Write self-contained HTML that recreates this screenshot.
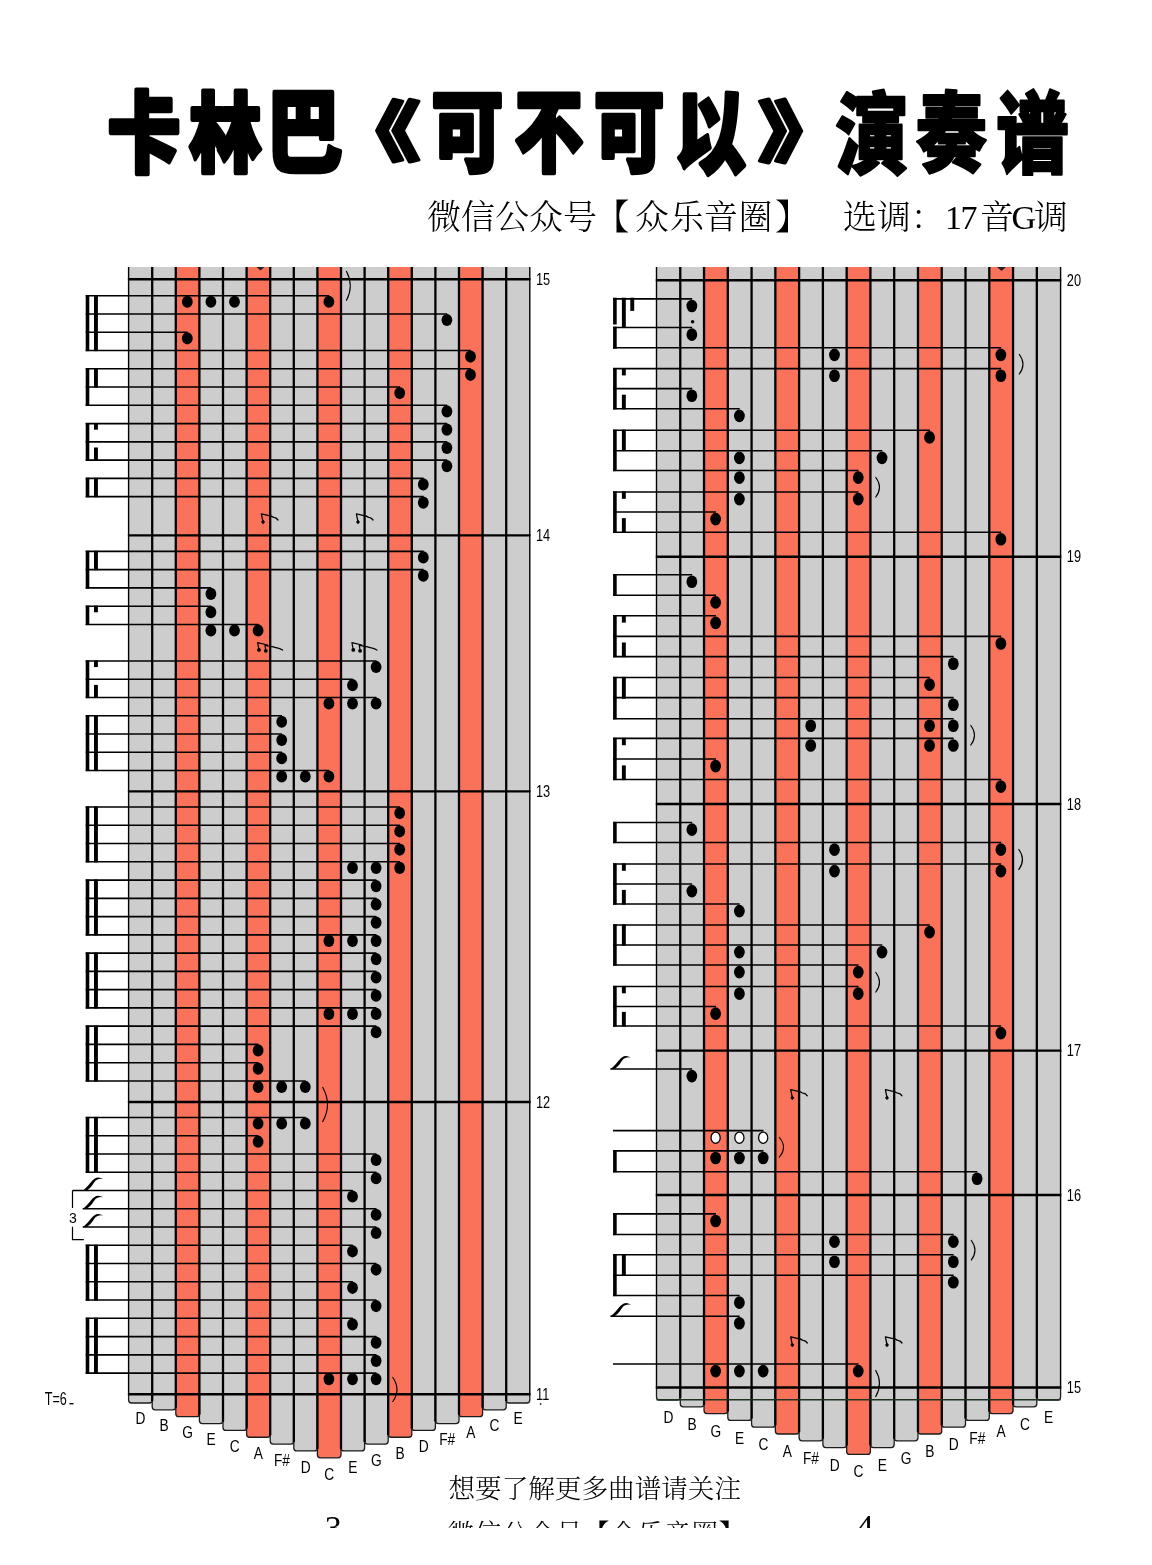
<!DOCTYPE html>
<html><head><meta charset="utf-8"><title>卡林巴《可不可以》演奏谱</title>
<style>
html,body{margin:0;padding:0;background:#fff;}
body{width:1152px;height:1565px;position:relative;overflow:hidden;}
svg{position:absolute;left:0;top:0;display:block;}
text{filter:grayscale(1);}
.tt{font-family:"Noto Sans CJK SC",sans-serif;font-weight:900;font-size:92px;fill:#000;stroke:#000;stroke-width:7px;stroke-linejoin:round;}
.st{font-family:"Liberation Serif","Noto Serif CJK SC",serif;font-size:34px;font-weight:300;fill:#000;}
.ml{font-family:"Liberation Sans",sans-serif;font-size:16px;fill:#000;}
.tl{font-family:"Liberation Sans",sans-serif;font-size:16px;fill:#000;}
.tn{font-family:"Liberation Sans",sans-serif;font-size:14px;fill:#000;}
.tx{font-family:"Liberation Sans",sans-serif;font-size:17.5px;fill:#000;}
.ft{font-family:"Liberation Serif","Noto Serif CJK SC",serif;font-weight:300;fill:#000;}
</style></head><body>
<svg width="1152" height="1565" viewBox="0 0 1152 1565">
<rect width="1152" height="1565" fill="#fff"/>
<text transform="translate(144.11,164.97) scale(0.7935,0.9521)" x="0" y="0" class="tt" style="stroke-width:4.5px" text-anchor="middle">卡</text>
<text transform="translate(225.36,165.12) scale(0.7889,0.9385)" x="0" y="0" class="tt" style="stroke-width:4.5px" text-anchor="middle">林</text>
<text transform="translate(304.2,164.02) scale(0.8313,0.9759)" x="0" y="0" class="tt" style="stroke-width:4.5px" text-anchor="middle">巴</text>
<text transform="translate(376.05,156.36) scale(0.9715,0.7184)" x="0" y="0" class="tt" style="stroke-width:4.0px" text-anchor="middle">《</text>
<text transform="translate(467.23,163.58) scale(0.7793,0.9654)" x="0" y="0" class="tt" style="stroke-width:4.5px" text-anchor="middle">可</text>
<text transform="translate(548.75,163.58) scale(0.7419,0.9654)" x="0" y="0" class="tt" style="stroke-width:4.5px" text-anchor="middle">不</text>
<text transform="translate(629.1,163.58) scale(0.7651,0.9654)" x="0" y="0" class="tt" style="stroke-width:4.5px" text-anchor="middle">可</text>
<text transform="translate(710.19,165.54) scale(0.7651,0.9840)" x="0" y="0" class="tt" style="stroke-width:4.5px" text-anchor="middle">以</text>
<text transform="translate(802.34,156.22) scale(0.9715,0.7322)" x="0" y="0" class="tt" style="stroke-width:4.0px" text-anchor="middle">》</text>
<text transform="translate(872.1,166.74) scale(0.7949,0.9594)" x="0" y="0" class="tt" style="stroke-width:2.5px" text-anchor="middle">演</text>
<text transform="translate(951.36,164.74) scale(0.7786,0.9455)" x="0" y="0" class="tt" style="stroke-width:2.5px" text-anchor="middle">奏</text>
<text transform="translate(1032.5,165.86) scale(0.7867,0.9594)" x="0" y="0" class="tt" style="stroke-width:2.5px" text-anchor="middle">谱</text>
<text y="229" class="st"><tspan x="427">微信公众号</tspan><tspan x="595" style="font-weight:900">【</tspan><tspan x="634.9">众</tspan><tspan x="670">乐</tspan><tspan x="704">音</tspan><tspan x="738.6">圈</tspan><tspan x="775.5" style="font-weight:900">】</tspan></text>
<text y="229" class="st"><tspan x="843">选调：1</tspan><tspan x="960.5">7</tspan><tspan x="980">音</tspan><tspan x="1011.5">G</tspan><tspan x="1034">调</tspan></text>
<path d="M317.4,267 L317.4,1454.8 Q317.4,1457.8 320.4,1457.8 L338,1457.8 Q341,1457.8 341,1454.8 L341,267 Z" fill="#f97259"/>
<path d="M293.8,267 L293.8,1447.95 Q293.8,1450.95 296.8,1450.95 L314.4,1450.95 Q317.4,1450.95 317.4,1447.95 L317.4,267 Z" fill="#cdcdcd"/>
<path d="M341,267 L341,1447.95 Q341,1450.95 344,1450.95 L361.6,1450.95 Q364.6,1450.95 364.6,1447.95 L364.6,267 Z" fill="#cdcdcd"/>
<path d="M270.2,267 L270.2,1441.1 Q270.2,1444.1 273.2,1444.1 L290.8,1444.1 Q293.8,1444.1 293.8,1441.1 L293.8,267 Z" fill="#cdcdcd"/>
<path d="M364.6,267 L364.6,1441.1 Q364.6,1444.1 367.6,1444.1 L385.2,1444.1 Q388.2,1444.1 388.2,1441.1 L388.2,267 Z" fill="#cdcdcd"/>
<path d="M246.6,267 L246.6,1434.25 Q246.6,1437.25 249.6,1437.25 L267.2,1437.25 Q270.2,1437.25 270.2,1434.25 L270.2,267 Z" fill="#f97259"/>
<path d="M388.2,267 L388.2,1434.25 Q388.2,1437.25 391.2,1437.25 L408.8,1437.25 Q411.8,1437.25 411.8,1434.25 L411.8,267 Z" fill="#f97259"/>
<path d="M223,267 L223,1427.4 Q223,1430.4 226,1430.4 L243.6,1430.4 Q246.6,1430.4 246.6,1427.4 L246.6,267 Z" fill="#cdcdcd"/>
<path d="M411.8,267 L411.8,1427.4 Q411.8,1430.4 414.8,1430.4 L432.4,1430.4 Q435.4,1430.4 435.4,1427.4 L435.4,267 Z" fill="#cdcdcd"/>
<path d="M199.4,267 L199.4,1420.55 Q199.4,1423.55 202.4,1423.55 L220,1423.55 Q223,1423.55 223,1420.55 L223,267 Z" fill="#cdcdcd"/>
<path d="M435.4,267 L435.4,1420.55 Q435.4,1423.55 438.4,1423.55 L456,1423.55 Q459,1423.55 459,1420.55 L459,267 Z" fill="#cdcdcd"/>
<path d="M175.8,267 L175.8,1413.7 Q175.8,1416.7 178.8,1416.7 L196.4,1416.7 Q199.4,1416.7 199.4,1413.7 L199.4,267 Z" fill="#f97259"/>
<path d="M459,267 L459,1413.7 Q459,1416.7 462,1416.7 L479.6,1416.7 Q482.6,1416.7 482.6,1413.7 L482.6,267 Z" fill="#f97259"/>
<path d="M152.2,267 L152.2,1406.85 Q152.2,1409.85 155.2,1409.85 L172.8,1409.85 Q175.8,1409.85 175.8,1406.85 L175.8,267 Z" fill="#cdcdcd"/>
<path d="M482.6,267 L482.6,1406.85 Q482.6,1409.85 485.6,1409.85 L503.2,1409.85 Q506.2,1409.85 506.2,1406.85 L506.2,267 Z" fill="#cdcdcd"/>
<path d="M128.6,267 L128.6,1400 Q128.6,1403 131.6,1403 L149.2,1403 Q152.2,1403 152.2,1400 L152.2,267 Z" fill="#cdcdcd"/>
<path d="M506.2,267 L506.2,1400 Q506.2,1403 509.2,1403 L526.8,1403 Q529.8,1403 529.8,1400 L529.8,267 Z" fill="#cdcdcd"/>
<path d="M317.4,1394.2 L317.4,1454.8 Q317.4,1457.8 320.4,1457.8 L338,1457.8 Q341,1457.8 341,1454.8 L341,1394.2" fill="none" stroke="#1c1c1c" stroke-width="1.3"/>
<path d="M293.8,1394.2 L293.8,1447.95 Q293.8,1450.95 296.8,1450.95 L314.4,1450.95 Q317.4,1450.95 317.4,1447.95 L317.4,1394.2" fill="none" stroke="#1c1c1c" stroke-width="1.3"/>
<path d="M341,1394.2 L341,1447.95 Q341,1450.95 344,1450.95 L361.6,1450.95 Q364.6,1450.95 364.6,1447.95 L364.6,1394.2" fill="none" stroke="#1c1c1c" stroke-width="1.3"/>
<path d="M270.2,1394.2 L270.2,1441.1 Q270.2,1444.1 273.2,1444.1 L290.8,1444.1 Q293.8,1444.1 293.8,1441.1 L293.8,1394.2" fill="none" stroke="#1c1c1c" stroke-width="1.3"/>
<path d="M364.6,1394.2 L364.6,1441.1 Q364.6,1444.1 367.6,1444.1 L385.2,1444.1 Q388.2,1444.1 388.2,1441.1 L388.2,1394.2" fill="none" stroke="#1c1c1c" stroke-width="1.3"/>
<path d="M246.6,1394.2 L246.6,1434.25 Q246.6,1437.25 249.6,1437.25 L267.2,1437.25 Q270.2,1437.25 270.2,1434.25 L270.2,1394.2" fill="none" stroke="#1c1c1c" stroke-width="1.3"/>
<path d="M388.2,1394.2 L388.2,1434.25 Q388.2,1437.25 391.2,1437.25 L408.8,1437.25 Q411.8,1437.25 411.8,1434.25 L411.8,1394.2" fill="none" stroke="#1c1c1c" stroke-width="1.3"/>
<path d="M223,1394.2 L223,1427.4 Q223,1430.4 226,1430.4 L243.6,1430.4 Q246.6,1430.4 246.6,1427.4 L246.6,1394.2" fill="none" stroke="#1c1c1c" stroke-width="1.3"/>
<path d="M411.8,1394.2 L411.8,1427.4 Q411.8,1430.4 414.8,1430.4 L432.4,1430.4 Q435.4,1430.4 435.4,1427.4 L435.4,1394.2" fill="none" stroke="#1c1c1c" stroke-width="1.3"/>
<path d="M199.4,1394.2 L199.4,1420.55 Q199.4,1423.55 202.4,1423.55 L220,1423.55 Q223,1423.55 223,1420.55 L223,1394.2" fill="none" stroke="#1c1c1c" stroke-width="1.3"/>
<path d="M435.4,1394.2 L435.4,1420.55 Q435.4,1423.55 438.4,1423.55 L456,1423.55 Q459,1423.55 459,1420.55 L459,1394.2" fill="none" stroke="#1c1c1c" stroke-width="1.3"/>
<path d="M175.8,1394.2 L175.8,1413.7 Q175.8,1416.7 178.8,1416.7 L196.4,1416.7 Q199.4,1416.7 199.4,1413.7 L199.4,1394.2" fill="none" stroke="#1c1c1c" stroke-width="1.3"/>
<path d="M459,1394.2 L459,1413.7 Q459,1416.7 462,1416.7 L479.6,1416.7 Q482.6,1416.7 482.6,1413.7 L482.6,1394.2" fill="none" stroke="#1c1c1c" stroke-width="1.3"/>
<path d="M152.2,1394.2 L152.2,1406.85 Q152.2,1409.85 155.2,1409.85 L172.8,1409.85 Q175.8,1409.85 175.8,1406.85 L175.8,1394.2" fill="none" stroke="#1c1c1c" stroke-width="1.3"/>
<path d="M482.6,1394.2 L482.6,1406.85 Q482.6,1409.85 485.6,1409.85 L503.2,1409.85 Q506.2,1409.85 506.2,1406.85 L506.2,1394.2" fill="none" stroke="#1c1c1c" stroke-width="1.3"/>
<path d="M128.6,1394.2 L128.6,1400 Q128.6,1403 131.6,1403 L149.2,1403 Q152.2,1403 152.2,1400 L152.2,1394.2" fill="none" stroke="#1c1c1c" stroke-width="1.3"/>
<path d="M506.2,1394.2 L506.2,1400 Q506.2,1403 509.2,1403 L526.8,1403 Q529.8,1403 529.8,1400 L529.8,1394.2" fill="none" stroke="#1c1c1c" stroke-width="1.3"/>
<line x1="128.6" y1="267" x2="128.6" y2="1394.2" stroke="#000" stroke-width="1.4"/>
<line x1="152.2" y1="267" x2="152.2" y2="1401" stroke="#000" stroke-width="2.3"/>
<line x1="175.8" y1="267" x2="175.8" y2="1407.85" stroke="#000" stroke-width="2.3"/>
<line x1="199.4" y1="267" x2="199.4" y2="1414.7" stroke="#000" stroke-width="2.3"/>
<line x1="223" y1="267" x2="223" y2="1421.55" stroke="#000" stroke-width="2.3"/>
<line x1="246.6" y1="267" x2="246.6" y2="1428.4" stroke="#000" stroke-width="2.3"/>
<line x1="270.2" y1="267" x2="270.2" y2="1435.25" stroke="#000" stroke-width="2.3"/>
<line x1="293.8" y1="267" x2="293.8" y2="1442.1" stroke="#000" stroke-width="2.3"/>
<line x1="317.4" y1="267" x2="317.4" y2="1448.95" stroke="#000" stroke-width="2.3"/>
<line x1="341" y1="267" x2="341" y2="1448.95" stroke="#000" stroke-width="2.3"/>
<line x1="364.6" y1="267" x2="364.6" y2="1442.1" stroke="#000" stroke-width="2.3"/>
<line x1="388.2" y1="267" x2="388.2" y2="1435.25" stroke="#000" stroke-width="2.3"/>
<line x1="411.8" y1="267" x2="411.8" y2="1428.4" stroke="#000" stroke-width="2.3"/>
<line x1="435.4" y1="267" x2="435.4" y2="1421.55" stroke="#000" stroke-width="2.3"/>
<line x1="459" y1="267" x2="459" y2="1414.7" stroke="#000" stroke-width="2.3"/>
<line x1="482.6" y1="267" x2="482.6" y2="1407.85" stroke="#000" stroke-width="2.3"/>
<line x1="506.2" y1="267" x2="506.2" y2="1401" stroke="#000" stroke-width="2.3"/>
<line x1="529.8" y1="267" x2="529.8" y2="1394.2" stroke="#000" stroke-width="1.4"/>
<line x1="127.9" y1="279.3" x2="530.5" y2="279.3" stroke="#000" stroke-width="2.4"/>
<text transform="translate(536,284.9) scale(0.8,1)" class="ml">15</text>
<line x1="127.9" y1="535.4" x2="530.5" y2="535.4" stroke="#000" stroke-width="2.4"/>
<text transform="translate(536,541) scale(0.8,1)" class="ml">14</text>
<line x1="127.9" y1="791.4" x2="530.5" y2="791.4" stroke="#000" stroke-width="2.4"/>
<text transform="translate(536,797) scale(0.8,1)" class="ml">13</text>
<line x1="127.9" y1="1102" x2="530.5" y2="1102" stroke="#000" stroke-width="2.4"/>
<text transform="translate(536,1107.6) scale(0.8,1)" class="ml">12</text>
<line x1="127.9" y1="1394.2" x2="530.5" y2="1394.2" stroke="#000" stroke-width="2.4"/>
<text transform="translate(536,1399.8) scale(0.8,1)" class="ml">11</text>
<text transform="translate(140.4,1424.3) scale(0.86,1)" class="tl" text-anchor="middle">D</text>
<text transform="translate(164,1431.24) scale(0.86,1)" class="tl" text-anchor="middle">B</text>
<text transform="translate(187.6,1438.18) scale(0.86,1)" class="tl" text-anchor="middle">G</text>
<text transform="translate(211.2,1445.12) scale(0.86,1)" class="tl" text-anchor="middle">E</text>
<text transform="translate(234.8,1452.06) scale(0.86,1)" class="tl" text-anchor="middle">C</text>
<text transform="translate(258.4,1459) scale(0.86,1)" class="tl" text-anchor="middle">A</text>
<text transform="translate(282,1465.94) scale(0.86,1)" class="tl" text-anchor="middle">F#</text>
<text transform="translate(305.6,1472.88) scale(0.86,1)" class="tl" text-anchor="middle">D</text>
<text transform="translate(329.2,1479.82) scale(0.86,1)" class="tl" text-anchor="middle">C</text>
<text transform="translate(352.8,1472.88) scale(0.86,1)" class="tl" text-anchor="middle">E</text>
<text transform="translate(376.4,1465.94) scale(0.86,1)" class="tl" text-anchor="middle">G</text>
<text transform="translate(400,1459) scale(0.86,1)" class="tl" text-anchor="middle">B</text>
<text transform="translate(423.6,1452.06) scale(0.86,1)" class="tl" text-anchor="middle">D</text>
<text transform="translate(447.2,1445.12) scale(0.86,1)" class="tl" text-anchor="middle">F#</text>
<text transform="translate(470.8,1438.18) scale(0.86,1)" class="tl" text-anchor="middle">A</text>
<text transform="translate(494.4,1431.24) scale(0.86,1)" class="tl" text-anchor="middle">C</text>
<text transform="translate(518,1424.3) scale(0.86,1)" class="tl" text-anchor="middle">E</text>
<path d="M846.66,267 L846.66,1451.4 Q846.66,1454.4 849.66,1454.4 L867.43,1454.4 Q870.43,1454.4 870.43,1451.4 L870.43,267 Z" fill="#f97259"/>
<path d="M822.89,267 L822.89,1444.6 Q822.89,1447.6 825.89,1447.6 L843.66,1447.6 Q846.66,1447.6 846.66,1444.6 L846.66,267 Z" fill="#cdcdcd"/>
<path d="M870.43,267 L870.43,1444.6 Q870.43,1447.6 873.43,1447.6 L891.2,1447.6 Q894.2,1447.6 894.2,1444.6 L894.2,267 Z" fill="#cdcdcd"/>
<path d="M799.12,267 L799.12,1437.8 Q799.12,1440.8 802.12,1440.8 L819.89,1440.8 Q822.89,1440.8 822.89,1437.8 L822.89,267 Z" fill="#cdcdcd"/>
<path d="M894.2,267 L894.2,1437.8 Q894.2,1440.8 897.2,1440.8 L914.97,1440.8 Q917.97,1440.8 917.97,1437.8 L917.97,267 Z" fill="#cdcdcd"/>
<path d="M775.35,267 L775.35,1431 Q775.35,1434 778.35,1434 L796.12,1434 Q799.12,1434 799.12,1431 L799.12,267 Z" fill="#f97259"/>
<path d="M917.97,267 L917.97,1431 Q917.97,1434 920.97,1434 L938.74,1434 Q941.74,1434 941.74,1431 L941.74,267 Z" fill="#f97259"/>
<path d="M751.58,267 L751.58,1424.2 Q751.58,1427.2 754.58,1427.2 L772.35,1427.2 Q775.35,1427.2 775.35,1424.2 L775.35,267 Z" fill="#cdcdcd"/>
<path d="M941.74,267 L941.74,1424.2 Q941.74,1427.2 944.74,1427.2 L962.51,1427.2 Q965.51,1427.2 965.51,1424.2 L965.51,267 Z" fill="#cdcdcd"/>
<path d="M727.81,267 L727.81,1417.4 Q727.81,1420.4 730.81,1420.4 L748.58,1420.4 Q751.58,1420.4 751.58,1417.4 L751.58,267 Z" fill="#cdcdcd"/>
<path d="M965.51,267 L965.51,1417.4 Q965.51,1420.4 968.51,1420.4 L986.28,1420.4 Q989.28,1420.4 989.28,1417.4 L989.28,267 Z" fill="#cdcdcd"/>
<path d="M704.04,267 L704.04,1410.6 Q704.04,1413.6 707.04,1413.6 L724.81,1413.6 Q727.81,1413.6 727.81,1410.6 L727.81,267 Z" fill="#f97259"/>
<path d="M989.28,267 L989.28,1410.6 Q989.28,1413.6 992.28,1413.6 L1010.05,1413.6 Q1013.05,1413.6 1013.05,1410.6 L1013.05,267 Z" fill="#f97259"/>
<path d="M680.27,267 L680.27,1403.8 Q680.27,1406.8 683.27,1406.8 L701.04,1406.8 Q704.04,1406.8 704.04,1403.8 L704.04,267 Z" fill="#cdcdcd"/>
<path d="M1013.05,267 L1013.05,1403.8 Q1013.05,1406.8 1016.05,1406.8 L1033.82,1406.8 Q1036.82,1406.8 1036.82,1403.8 L1036.82,267 Z" fill="#cdcdcd"/>
<path d="M656.5,267 L656.5,1397 Q656.5,1400 659.5,1400 L677.27,1400 Q680.27,1400 680.27,1397 L680.27,267 Z" fill="#cdcdcd"/>
<path d="M1036.82,267 L1036.82,1397 Q1036.82,1400 1039.82,1400 L1057.59,1400 Q1060.59,1400 1060.59,1397 L1060.59,267 Z" fill="#cdcdcd"/>
<path d="M846.66,1387.5 L846.66,1451.4 Q846.66,1454.4 849.66,1454.4 L867.43,1454.4 Q870.43,1454.4 870.43,1451.4 L870.43,1387.5" fill="none" stroke="#1c1c1c" stroke-width="1.3"/>
<path d="M822.89,1387.5 L822.89,1444.6 Q822.89,1447.6 825.89,1447.6 L843.66,1447.6 Q846.66,1447.6 846.66,1444.6 L846.66,1387.5" fill="none" stroke="#1c1c1c" stroke-width="1.3"/>
<path d="M870.43,1387.5 L870.43,1444.6 Q870.43,1447.6 873.43,1447.6 L891.2,1447.6 Q894.2,1447.6 894.2,1444.6 L894.2,1387.5" fill="none" stroke="#1c1c1c" stroke-width="1.3"/>
<path d="M799.12,1387.5 L799.12,1437.8 Q799.12,1440.8 802.12,1440.8 L819.89,1440.8 Q822.89,1440.8 822.89,1437.8 L822.89,1387.5" fill="none" stroke="#1c1c1c" stroke-width="1.3"/>
<path d="M894.2,1387.5 L894.2,1437.8 Q894.2,1440.8 897.2,1440.8 L914.97,1440.8 Q917.97,1440.8 917.97,1437.8 L917.97,1387.5" fill="none" stroke="#1c1c1c" stroke-width="1.3"/>
<path d="M775.35,1387.5 L775.35,1431 Q775.35,1434 778.35,1434 L796.12,1434 Q799.12,1434 799.12,1431 L799.12,1387.5" fill="none" stroke="#1c1c1c" stroke-width="1.3"/>
<path d="M917.97,1387.5 L917.97,1431 Q917.97,1434 920.97,1434 L938.74,1434 Q941.74,1434 941.74,1431 L941.74,1387.5" fill="none" stroke="#1c1c1c" stroke-width="1.3"/>
<path d="M751.58,1387.5 L751.58,1424.2 Q751.58,1427.2 754.58,1427.2 L772.35,1427.2 Q775.35,1427.2 775.35,1424.2 L775.35,1387.5" fill="none" stroke="#1c1c1c" stroke-width="1.3"/>
<path d="M941.74,1387.5 L941.74,1424.2 Q941.74,1427.2 944.74,1427.2 L962.51,1427.2 Q965.51,1427.2 965.51,1424.2 L965.51,1387.5" fill="none" stroke="#1c1c1c" stroke-width="1.3"/>
<path d="M727.81,1387.5 L727.81,1417.4 Q727.81,1420.4 730.81,1420.4 L748.58,1420.4 Q751.58,1420.4 751.58,1417.4 L751.58,1387.5" fill="none" stroke="#1c1c1c" stroke-width="1.3"/>
<path d="M965.51,1387.5 L965.51,1417.4 Q965.51,1420.4 968.51,1420.4 L986.28,1420.4 Q989.28,1420.4 989.28,1417.4 L989.28,1387.5" fill="none" stroke="#1c1c1c" stroke-width="1.3"/>
<path d="M704.04,1387.5 L704.04,1410.6 Q704.04,1413.6 707.04,1413.6 L724.81,1413.6 Q727.81,1413.6 727.81,1410.6 L727.81,1387.5" fill="none" stroke="#1c1c1c" stroke-width="1.3"/>
<path d="M989.28,1387.5 L989.28,1410.6 Q989.28,1413.6 992.28,1413.6 L1010.05,1413.6 Q1013.05,1413.6 1013.05,1410.6 L1013.05,1387.5" fill="none" stroke="#1c1c1c" stroke-width="1.3"/>
<path d="M680.27,1387.5 L680.27,1403.8 Q680.27,1406.8 683.27,1406.8 L701.04,1406.8 Q704.04,1406.8 704.04,1403.8 L704.04,1387.5" fill="none" stroke="#1c1c1c" stroke-width="1.3"/>
<path d="M1013.05,1387.5 L1013.05,1403.8 Q1013.05,1406.8 1016.05,1406.8 L1033.82,1406.8 Q1036.82,1406.8 1036.82,1403.8 L1036.82,1387.5" fill="none" stroke="#1c1c1c" stroke-width="1.3"/>
<path d="M656.5,1387.5 L656.5,1397 Q656.5,1400 659.5,1400 L677.27,1400 Q680.27,1400 680.27,1397 L680.27,1387.5" fill="none" stroke="#1c1c1c" stroke-width="1.3"/>
<path d="M1036.82,1387.5 L1036.82,1397 Q1036.82,1400 1039.82,1400 L1057.59,1400 Q1060.59,1400 1060.59,1397 L1060.59,1387.5" fill="none" stroke="#1c1c1c" stroke-width="1.3"/>
<line x1="656.5" y1="267" x2="656.5" y2="1387.5" stroke="#000" stroke-width="1.4"/>
<line x1="680.27" y1="267" x2="680.27" y2="1398" stroke="#000" stroke-width="2.3"/>
<line x1="704.04" y1="267" x2="704.04" y2="1404.8" stroke="#000" stroke-width="2.3"/>
<line x1="727.81" y1="267" x2="727.81" y2="1411.6" stroke="#000" stroke-width="2.3"/>
<line x1="751.58" y1="267" x2="751.58" y2="1418.4" stroke="#000" stroke-width="2.3"/>
<line x1="775.35" y1="267" x2="775.35" y2="1425.2" stroke="#000" stroke-width="2.3"/>
<line x1="799.12" y1="267" x2="799.12" y2="1432" stroke="#000" stroke-width="2.3"/>
<line x1="822.89" y1="267" x2="822.89" y2="1438.8" stroke="#000" stroke-width="2.3"/>
<line x1="846.66" y1="267" x2="846.66" y2="1445.6" stroke="#000" stroke-width="2.3"/>
<line x1="870.43" y1="267" x2="870.43" y2="1445.6" stroke="#000" stroke-width="2.3"/>
<line x1="894.2" y1="267" x2="894.2" y2="1438.8" stroke="#000" stroke-width="2.3"/>
<line x1="917.97" y1="267" x2="917.97" y2="1432" stroke="#000" stroke-width="2.3"/>
<line x1="941.74" y1="267" x2="941.74" y2="1425.2" stroke="#000" stroke-width="2.3"/>
<line x1="965.51" y1="267" x2="965.51" y2="1418.4" stroke="#000" stroke-width="2.3"/>
<line x1="989.28" y1="267" x2="989.28" y2="1411.6" stroke="#000" stroke-width="2.3"/>
<line x1="1013.05" y1="267" x2="1013.05" y2="1404.8" stroke="#000" stroke-width="2.3"/>
<line x1="1036.82" y1="267" x2="1036.82" y2="1398" stroke="#000" stroke-width="2.3"/>
<line x1="1060.59" y1="267" x2="1060.59" y2="1387.5" stroke="#000" stroke-width="1.4"/>
<line x1="656.5" y1="1399.8" x2="1060.59" y2="1399.8" stroke="#1d3320" stroke-width="1.5"/>
<line x1="655.8" y1="280.2" x2="1061.29" y2="280.2" stroke="#000" stroke-width="2.4"/>
<text transform="translate(1066.79,285.8) scale(0.8,1)" class="ml">20</text>
<line x1="655.8" y1="556.8" x2="1061.29" y2="556.8" stroke="#000" stroke-width="2.4"/>
<text transform="translate(1066.79,562.4) scale(0.8,1)" class="ml">19</text>
<line x1="655.8" y1="804" x2="1061.29" y2="804" stroke="#000" stroke-width="2.4"/>
<text transform="translate(1066.79,809.6) scale(0.8,1)" class="ml">18</text>
<line x1="655.8" y1="1050.6" x2="1061.29" y2="1050.6" stroke="#000" stroke-width="2.4"/>
<text transform="translate(1066.79,1056.2) scale(0.8,1)" class="ml">17</text>
<line x1="655.8" y1="1195" x2="1061.29" y2="1195" stroke="#000" stroke-width="2.4"/>
<text transform="translate(1066.79,1200.6) scale(0.8,1)" class="ml">16</text>
<line x1="655.8" y1="1387.5" x2="1061.29" y2="1387.5" stroke="#000" stroke-width="2.4"/>
<text transform="translate(1066.79,1393.1) scale(0.8,1)" class="ml">15</text>
<text transform="translate(668.38,1423.3) scale(0.86,1)" class="tl" text-anchor="middle">D</text>
<text transform="translate(692.15,1430.05) scale(0.86,1)" class="tl" text-anchor="middle">B</text>
<text transform="translate(715.92,1436.8) scale(0.86,1)" class="tl" text-anchor="middle">G</text>
<text transform="translate(739.69,1443.55) scale(0.86,1)" class="tl" text-anchor="middle">E</text>
<text transform="translate(763.47,1450.3) scale(0.86,1)" class="tl" text-anchor="middle">C</text>
<text transform="translate(787.24,1457.05) scale(0.86,1)" class="tl" text-anchor="middle">A</text>
<text transform="translate(811,1463.8) scale(0.86,1)" class="tl" text-anchor="middle">F#</text>
<text transform="translate(834.77,1470.55) scale(0.86,1)" class="tl" text-anchor="middle">D</text>
<text transform="translate(858.54,1477.3) scale(0.86,1)" class="tl" text-anchor="middle">C</text>
<text transform="translate(882.32,1470.55) scale(0.86,1)" class="tl" text-anchor="middle">E</text>
<text transform="translate(906.09,1463.8) scale(0.86,1)" class="tl" text-anchor="middle">G</text>
<text transform="translate(929.86,1457.05) scale(0.86,1)" class="tl" text-anchor="middle">B</text>
<text transform="translate(953.62,1450.3) scale(0.86,1)" class="tl" text-anchor="middle">D</text>
<text transform="translate(977.39,1443.55) scale(0.86,1)" class="tl" text-anchor="middle">F#</text>
<text transform="translate(1001.16,1436.8) scale(0.86,1)" class="tl" text-anchor="middle">A</text>
<text transform="translate(1024.93,1430.05) scale(0.86,1)" class="tl" text-anchor="middle">C</text>
<text transform="translate(1048.7,1423.3) scale(0.86,1)" class="tl" text-anchor="middle">E</text>
<line x1="85.7" y1="295.76" x2="329.2" y2="295.76" stroke="#000" stroke-width="1.6"/>
<line x1="85.7" y1="314.02" x2="447.2" y2="314.02" stroke="#000" stroke-width="1.6"/>
<line x1="85.7" y1="332.28" x2="187.6" y2="332.28" stroke="#000" stroke-width="1.6"/>
<line x1="85.7" y1="350.54" x2="470.8" y2="350.54" stroke="#000" stroke-width="1.6"/>
<line x1="85.7" y1="368.8" x2="470.8" y2="368.8" stroke="#000" stroke-width="1.6"/>
<line x1="85.7" y1="387.06" x2="400" y2="387.06" stroke="#000" stroke-width="1.6"/>
<line x1="85.7" y1="405.32" x2="447.2" y2="405.32" stroke="#000" stroke-width="1.6"/>
<line x1="85.7" y1="423.58" x2="447.2" y2="423.58" stroke="#000" stroke-width="1.6"/>
<line x1="85.7" y1="441.84" x2="447.2" y2="441.84" stroke="#000" stroke-width="1.6"/>
<line x1="85.7" y1="460.1" x2="447.2" y2="460.1" stroke="#000" stroke-width="1.6"/>
<line x1="85.7" y1="478.36" x2="423.6" y2="478.36" stroke="#000" stroke-width="1.6"/>
<line x1="85.7" y1="496.62" x2="423.6" y2="496.62" stroke="#000" stroke-width="1.6"/>
<line x1="85.7" y1="551.4" x2="423.6" y2="551.4" stroke="#000" stroke-width="1.6"/>
<line x1="85.7" y1="569.66" x2="423.6" y2="569.66" stroke="#000" stroke-width="1.6"/>
<line x1="85.7" y1="587.92" x2="211.2" y2="587.92" stroke="#000" stroke-width="1.6"/>
<line x1="85.7" y1="606.18" x2="211.2" y2="606.18" stroke="#000" stroke-width="1.6"/>
<line x1="85.7" y1="624.44" x2="258.4" y2="624.44" stroke="#000" stroke-width="1.6"/>
<line x1="85.7" y1="660.96" x2="376.4" y2="660.96" stroke="#000" stroke-width="1.6"/>
<line x1="85.7" y1="679.22" x2="352.8" y2="679.22" stroke="#000" stroke-width="1.6"/>
<line x1="85.7" y1="697.48" x2="376.4" y2="697.48" stroke="#000" stroke-width="1.6"/>
<line x1="85.7" y1="715.74" x2="282" y2="715.74" stroke="#000" stroke-width="1.6"/>
<line x1="85.7" y1="734" x2="282" y2="734" stroke="#000" stroke-width="1.6"/>
<line x1="85.7" y1="752.26" x2="282" y2="752.26" stroke="#000" stroke-width="1.6"/>
<line x1="85.7" y1="770.52" x2="329.2" y2="770.52" stroke="#000" stroke-width="1.6"/>
<line x1="85.7" y1="807.04" x2="400" y2="807.04" stroke="#000" stroke-width="1.6"/>
<line x1="85.7" y1="825.3" x2="400" y2="825.3" stroke="#000" stroke-width="1.6"/>
<line x1="85.7" y1="843.56" x2="400" y2="843.56" stroke="#000" stroke-width="1.6"/>
<line x1="85.7" y1="861.82" x2="400" y2="861.82" stroke="#000" stroke-width="1.6"/>
<line x1="85.7" y1="880.08" x2="376.4" y2="880.08" stroke="#000" stroke-width="1.6"/>
<line x1="85.7" y1="898.34" x2="376.4" y2="898.34" stroke="#000" stroke-width="1.6"/>
<line x1="85.7" y1="916.6" x2="376.4" y2="916.6" stroke="#000" stroke-width="1.6"/>
<line x1="85.7" y1="934.86" x2="376.4" y2="934.86" stroke="#000" stroke-width="1.6"/>
<line x1="85.7" y1="953.12" x2="376.4" y2="953.12" stroke="#000" stroke-width="1.6"/>
<line x1="85.7" y1="971.38" x2="376.4" y2="971.38" stroke="#000" stroke-width="1.6"/>
<line x1="85.7" y1="989.64" x2="376.4" y2="989.64" stroke="#000" stroke-width="1.6"/>
<line x1="85.7" y1="1007.9" x2="376.4" y2="1007.9" stroke="#000" stroke-width="1.6"/>
<line x1="85.7" y1="1026.16" x2="376.4" y2="1026.16" stroke="#000" stroke-width="1.6"/>
<line x1="85.7" y1="1044.42" x2="258.4" y2="1044.42" stroke="#000" stroke-width="1.6"/>
<line x1="85.7" y1="1062.68" x2="258.4" y2="1062.68" stroke="#000" stroke-width="1.6"/>
<line x1="85.7" y1="1080.94" x2="305.6" y2="1080.94" stroke="#000" stroke-width="1.6"/>
<line x1="85.7" y1="1117.46" x2="305.6" y2="1117.46" stroke="#000" stroke-width="1.6"/>
<line x1="85.7" y1="1135.72" x2="258.4" y2="1135.72" stroke="#000" stroke-width="1.6"/>
<line x1="85.7" y1="1153.98" x2="376.4" y2="1153.98" stroke="#000" stroke-width="1.6"/>
<line x1="85.7" y1="1172.24" x2="376.4" y2="1172.24" stroke="#000" stroke-width="1.6"/>
<line x1="72.5" y1="1190.5" x2="352.8" y2="1190.5" stroke="#000" stroke-width="1.6"/>
<line x1="82.7" y1="1208.76" x2="376.4" y2="1208.76" stroke="#000" stroke-width="1.6"/>
<line x1="82.7" y1="1227.02" x2="376.4" y2="1227.02" stroke="#000" stroke-width="1.6"/>
<line x1="85.7" y1="1245.28" x2="352.8" y2="1245.28" stroke="#000" stroke-width="1.6"/>
<line x1="85.7" y1="1263.54" x2="376.4" y2="1263.54" stroke="#000" stroke-width="1.6"/>
<line x1="85.7" y1="1281.8" x2="352.8" y2="1281.8" stroke="#000" stroke-width="1.6"/>
<line x1="85.7" y1="1300.06" x2="376.4" y2="1300.06" stroke="#000" stroke-width="1.6"/>
<line x1="85.7" y1="1318.32" x2="352.8" y2="1318.32" stroke="#000" stroke-width="1.6"/>
<line x1="85.7" y1="1336.58" x2="376.4" y2="1336.58" stroke="#000" stroke-width="1.6"/>
<line x1="85.7" y1="1354.84" x2="376.4" y2="1354.84" stroke="#000" stroke-width="1.6"/>
<line x1="85.7" y1="1373.1" x2="376.4" y2="1373.1" stroke="#000" stroke-width="1.6"/>
<ellipse cx="187.3" cy="301.76" rx="5.4" ry="6.1" fill="#000"/>
<ellipse cx="210.9" cy="301.76" rx="5.4" ry="6.1" fill="#000"/>
<ellipse cx="234.5" cy="301.76" rx="5.4" ry="6.1" fill="#000"/>
<ellipse cx="328.9" cy="301.76" rx="5.4" ry="6.1" fill="#000"/>
<ellipse cx="446.9" cy="320.02" rx="5.4" ry="6.1" fill="#000"/>
<ellipse cx="187.3" cy="338.28" rx="5.4" ry="6.1" fill="#000"/>
<ellipse cx="470.5" cy="356.54" rx="5.4" ry="6.1" fill="#000"/>
<ellipse cx="470.5" cy="374.8" rx="5.4" ry="6.1" fill="#000"/>
<ellipse cx="399.7" cy="393.06" rx="5.4" ry="6.1" fill="#000"/>
<ellipse cx="446.9" cy="411.32" rx="5.4" ry="6.1" fill="#000"/>
<ellipse cx="446.9" cy="429.58" rx="5.4" ry="6.1" fill="#000"/>
<ellipse cx="446.9" cy="447.84" rx="5.4" ry="6.1" fill="#000"/>
<ellipse cx="446.9" cy="466.1" rx="5.4" ry="6.1" fill="#000"/>
<ellipse cx="423.3" cy="484.36" rx="5.4" ry="6.1" fill="#000"/>
<ellipse cx="423.3" cy="502.62" rx="5.4" ry="6.1" fill="#000"/>
<ellipse cx="423.3" cy="557.4" rx="5.4" ry="6.1" fill="#000"/>
<ellipse cx="423.3" cy="575.66" rx="5.4" ry="6.1" fill="#000"/>
<ellipse cx="210.9" cy="593.92" rx="5.4" ry="6.1" fill="#000"/>
<ellipse cx="210.9" cy="612.18" rx="5.4" ry="6.1" fill="#000"/>
<ellipse cx="210.9" cy="630.44" rx="5.4" ry="6.1" fill="#000"/>
<ellipse cx="234.5" cy="630.44" rx="5.4" ry="6.1" fill="#000"/>
<ellipse cx="258.1" cy="630.44" rx="5.4" ry="6.1" fill="#000"/>
<ellipse cx="376.1" cy="666.96" rx="5.4" ry="6.1" fill="#000"/>
<ellipse cx="352.5" cy="685.22" rx="5.4" ry="6.1" fill="#000"/>
<ellipse cx="328.9" cy="703.48" rx="5.4" ry="6.1" fill="#000"/>
<ellipse cx="352.5" cy="703.48" rx="5.4" ry="6.1" fill="#000"/>
<ellipse cx="376.1" cy="703.48" rx="5.4" ry="6.1" fill="#000"/>
<ellipse cx="281.7" cy="721.74" rx="5.4" ry="6.1" fill="#000"/>
<ellipse cx="281.7" cy="740" rx="5.4" ry="6.1" fill="#000"/>
<ellipse cx="281.7" cy="758.26" rx="5.4" ry="6.1" fill="#000"/>
<ellipse cx="281.7" cy="776.52" rx="5.4" ry="6.1" fill="#000"/>
<ellipse cx="305.3" cy="776.52" rx="5.4" ry="6.1" fill="#000"/>
<ellipse cx="328.9" cy="776.52" rx="5.4" ry="6.1" fill="#000"/>
<ellipse cx="399.7" cy="813.04" rx="5.4" ry="6.1" fill="#000"/>
<ellipse cx="399.7" cy="831.3" rx="5.4" ry="6.1" fill="#000"/>
<ellipse cx="399.7" cy="849.56" rx="5.4" ry="6.1" fill="#000"/>
<ellipse cx="352.5" cy="867.82" rx="5.4" ry="6.1" fill="#000"/>
<ellipse cx="376.1" cy="867.82" rx="5.4" ry="6.1" fill="#000"/>
<ellipse cx="399.7" cy="867.82" rx="5.4" ry="6.1" fill="#000"/>
<ellipse cx="376.1" cy="886.08" rx="5.4" ry="6.1" fill="#000"/>
<ellipse cx="376.1" cy="904.34" rx="5.4" ry="6.1" fill="#000"/>
<ellipse cx="376.1" cy="922.6" rx="5.4" ry="6.1" fill="#000"/>
<ellipse cx="328.9" cy="940.86" rx="5.4" ry="6.1" fill="#000"/>
<ellipse cx="352.5" cy="940.86" rx="5.4" ry="6.1" fill="#000"/>
<ellipse cx="376.1" cy="940.86" rx="5.4" ry="6.1" fill="#000"/>
<ellipse cx="376.1" cy="959.12" rx="5.4" ry="6.1" fill="#000"/>
<ellipse cx="376.1" cy="977.38" rx="5.4" ry="6.1" fill="#000"/>
<ellipse cx="376.1" cy="995.64" rx="5.4" ry="6.1" fill="#000"/>
<ellipse cx="328.9" cy="1013.9" rx="5.4" ry="6.1" fill="#000"/>
<ellipse cx="352.5" cy="1013.9" rx="5.4" ry="6.1" fill="#000"/>
<ellipse cx="376.1" cy="1013.9" rx="5.4" ry="6.1" fill="#000"/>
<ellipse cx="376.1" cy="1032.16" rx="5.4" ry="6.1" fill="#000"/>
<ellipse cx="258.1" cy="1050.42" rx="5.4" ry="6.1" fill="#000"/>
<ellipse cx="258.1" cy="1068.68" rx="5.4" ry="6.1" fill="#000"/>
<ellipse cx="258.1" cy="1086.94" rx="5.4" ry="6.1" fill="#000"/>
<ellipse cx="281.7" cy="1086.94" rx="5.4" ry="6.1" fill="#000"/>
<ellipse cx="305.3" cy="1086.94" rx="5.4" ry="6.1" fill="#000"/>
<ellipse cx="258.1" cy="1123.46" rx="5.4" ry="6.1" fill="#000"/>
<ellipse cx="281.7" cy="1123.46" rx="5.4" ry="6.1" fill="#000"/>
<ellipse cx="305.3" cy="1123.46" rx="5.4" ry="6.1" fill="#000"/>
<ellipse cx="258.1" cy="1141.72" rx="5.4" ry="6.1" fill="#000"/>
<ellipse cx="376.1" cy="1159.98" rx="5.4" ry="6.1" fill="#000"/>
<ellipse cx="376.1" cy="1178.24" rx="5.4" ry="6.1" fill="#000"/>
<ellipse cx="352.5" cy="1196.5" rx="5.4" ry="6.1" fill="#000"/>
<ellipse cx="376.1" cy="1214.76" rx="5.4" ry="6.1" fill="#000"/>
<ellipse cx="376.1" cy="1233.02" rx="5.4" ry="6.1" fill="#000"/>
<ellipse cx="352.5" cy="1251.28" rx="5.4" ry="6.1" fill="#000"/>
<ellipse cx="376.1" cy="1269.54" rx="5.4" ry="6.1" fill="#000"/>
<ellipse cx="352.5" cy="1287.8" rx="5.4" ry="6.1" fill="#000"/>
<ellipse cx="376.1" cy="1306.06" rx="5.4" ry="6.1" fill="#000"/>
<ellipse cx="352.5" cy="1324.32" rx="5.4" ry="6.1" fill="#000"/>
<ellipse cx="376.1" cy="1342.58" rx="5.4" ry="6.1" fill="#000"/>
<ellipse cx="376.1" cy="1360.84" rx="5.4" ry="6.1" fill="#000"/>
<ellipse cx="328.9" cy="1379.1" rx="5.4" ry="6.1" fill="#000"/>
<ellipse cx="352.5" cy="1379.1" rx="5.4" ry="6.1" fill="#000"/>
<ellipse cx="376.1" cy="1379.1" rx="5.4" ry="6.1" fill="#000"/>
<line x1="613" y1="298.9" x2="692.15" y2="298.9" stroke="#000" stroke-width="1.6"/>
<line x1="613" y1="327.5" x2="692.15" y2="327.5" stroke="#000" stroke-width="1.6"/>
<line x1="613" y1="347.8" x2="1001.16" y2="347.8" stroke="#000" stroke-width="1.6"/>
<line x1="613" y1="368.6" x2="1001.16" y2="368.6" stroke="#000" stroke-width="1.6"/>
<line x1="613" y1="388.6" x2="692.15" y2="388.6" stroke="#000" stroke-width="1.6"/>
<line x1="613" y1="408.8" x2="739.69" y2="408.8" stroke="#000" stroke-width="1.6"/>
<line x1="613" y1="430.3" x2="929.86" y2="430.3" stroke="#000" stroke-width="1.6"/>
<line x1="613" y1="450.8" x2="882.32" y2="450.8" stroke="#000" stroke-width="1.6"/>
<line x1="613" y1="470.5" x2="858.54" y2="470.5" stroke="#000" stroke-width="1.6"/>
<line x1="613" y1="492" x2="858.54" y2="492" stroke="#000" stroke-width="1.6"/>
<line x1="613" y1="512" x2="715.92" y2="512" stroke="#000" stroke-width="1.6"/>
<line x1="613" y1="532.2" x2="1001.16" y2="532.2" stroke="#000" stroke-width="1.6"/>
<line x1="613" y1="574.7" x2="692.15" y2="574.7" stroke="#000" stroke-width="1.6"/>
<line x1="613" y1="595.3" x2="715.92" y2="595.3" stroke="#000" stroke-width="1.6"/>
<line x1="613" y1="615.8" x2="715.92" y2="615.8" stroke="#000" stroke-width="1.6"/>
<line x1="613" y1="636.4" x2="1001.16" y2="636.4" stroke="#000" stroke-width="1.6"/>
<line x1="613" y1="656.6" x2="953.62" y2="656.6" stroke="#000" stroke-width="1.6"/>
<line x1="613" y1="677.5" x2="929.86" y2="677.5" stroke="#000" stroke-width="1.6"/>
<line x1="613" y1="697.6" x2="953.62" y2="697.6" stroke="#000" stroke-width="1.6"/>
<line x1="613" y1="718.7" x2="953.62" y2="718.7" stroke="#000" stroke-width="1.6"/>
<line x1="613" y1="738.4" x2="953.62" y2="738.4" stroke="#000" stroke-width="1.6"/>
<line x1="613" y1="759" x2="715.92" y2="759" stroke="#000" stroke-width="1.6"/>
<line x1="613" y1="779.5" x2="1001.16" y2="779.5" stroke="#000" stroke-width="1.6"/>
<line x1="613" y1="822.5" x2="692.15" y2="822.5" stroke="#000" stroke-width="1.6"/>
<line x1="613" y1="842.5" x2="1001.16" y2="842.5" stroke="#000" stroke-width="1.6"/>
<line x1="613" y1="864" x2="1001.16" y2="864" stroke="#000" stroke-width="1.6"/>
<line x1="613" y1="884" x2="692.15" y2="884" stroke="#000" stroke-width="1.6"/>
<line x1="613" y1="904" x2="739.69" y2="904" stroke="#000" stroke-width="1.6"/>
<line x1="613" y1="925" x2="929.86" y2="925" stroke="#000" stroke-width="1.6"/>
<line x1="613" y1="945" x2="882.32" y2="945" stroke="#000" stroke-width="1.6"/>
<line x1="613" y1="965" x2="858.54" y2="965" stroke="#000" stroke-width="1.6"/>
<line x1="613" y1="986.5" x2="858.54" y2="986.5" stroke="#000" stroke-width="1.6"/>
<line x1="613" y1="1006.5" x2="715.92" y2="1006.5" stroke="#000" stroke-width="1.6"/>
<line x1="613" y1="1026" x2="1001.16" y2="1026" stroke="#000" stroke-width="1.6"/>
<line x1="610.4" y1="1069" x2="692.15" y2="1069" stroke="#000" stroke-width="1.6"/>
<line x1="613" y1="1130.6" x2="763.47" y2="1130.6" stroke="#000" stroke-width="1.6"/>
<line x1="613" y1="1150.9" x2="763.47" y2="1150.9" stroke="#000" stroke-width="1.6"/>
<line x1="613" y1="1171.7" x2="977.39" y2="1171.7" stroke="#000" stroke-width="1.6"/>
<line x1="613" y1="1213.9" x2="715.92" y2="1213.9" stroke="#000" stroke-width="1.6"/>
<line x1="613" y1="1234.5" x2="953.62" y2="1234.5" stroke="#000" stroke-width="1.6"/>
<line x1="613" y1="1254.7" x2="953.62" y2="1254.7" stroke="#000" stroke-width="1.6"/>
<line x1="613" y1="1275.2" x2="953.62" y2="1275.2" stroke="#000" stroke-width="1.6"/>
<line x1="613" y1="1295.5" x2="739.69" y2="1295.5" stroke="#000" stroke-width="1.6"/>
<line x1="610.4" y1="1316.2" x2="739.69" y2="1316.2" stroke="#000" stroke-width="1.6"/>
<line x1="613" y1="1364" x2="858.54" y2="1364" stroke="#000" stroke-width="1.6"/>
<ellipse cx="691.86" cy="306" rx="5.4" ry="6.3" fill="#000"/>
<ellipse cx="691.86" cy="334.6" rx="5.4" ry="6.3" fill="#000"/>
<ellipse cx="834.48" cy="354.9" rx="5.4" ry="6.3" fill="#000"/>
<ellipse cx="1000.87" cy="354.9" rx="5.4" ry="6.3" fill="#000"/>
<ellipse cx="834.48" cy="375.7" rx="5.4" ry="6.3" fill="#000"/>
<ellipse cx="1000.87" cy="375.7" rx="5.4" ry="6.3" fill="#000"/>
<ellipse cx="691.86" cy="395.7" rx="5.4" ry="6.3" fill="#000"/>
<ellipse cx="739.39" cy="415.9" rx="5.4" ry="6.3" fill="#000"/>
<ellipse cx="929.56" cy="437.4" rx="5.4" ry="6.3" fill="#000"/>
<ellipse cx="739.39" cy="457.9" rx="5.4" ry="6.3" fill="#000"/>
<ellipse cx="882.02" cy="457.9" rx="5.4" ry="6.3" fill="#000"/>
<ellipse cx="739.39" cy="477.6" rx="5.4" ry="6.3" fill="#000"/>
<ellipse cx="858.25" cy="477.6" rx="5.4" ry="6.3" fill="#000"/>
<ellipse cx="739.39" cy="499.1" rx="5.4" ry="6.3" fill="#000"/>
<ellipse cx="858.25" cy="499.1" rx="5.4" ry="6.3" fill="#000"/>
<ellipse cx="715.62" cy="519.1" rx="5.4" ry="6.3" fill="#000"/>
<ellipse cx="1000.87" cy="539.3" rx="5.4" ry="6.3" fill="#000"/>
<ellipse cx="691.86" cy="581.8" rx="5.4" ry="6.3" fill="#000"/>
<ellipse cx="715.62" cy="602.4" rx="5.4" ry="6.3" fill="#000"/>
<ellipse cx="715.62" cy="622.9" rx="5.4" ry="6.3" fill="#000"/>
<ellipse cx="1000.87" cy="643.5" rx="5.4" ry="6.3" fill="#000"/>
<ellipse cx="953.33" cy="663.7" rx="5.4" ry="6.3" fill="#000"/>
<ellipse cx="929.56" cy="684.6" rx="5.4" ry="6.3" fill="#000"/>
<ellipse cx="953.33" cy="704.7" rx="5.4" ry="6.3" fill="#000"/>
<ellipse cx="810.71" cy="725.8" rx="5.4" ry="6.3" fill="#000"/>
<ellipse cx="929.56" cy="725.8" rx="5.4" ry="6.3" fill="#000"/>
<ellipse cx="953.33" cy="725.8" rx="5.4" ry="6.3" fill="#000"/>
<ellipse cx="810.71" cy="745.5" rx="5.4" ry="6.3" fill="#000"/>
<ellipse cx="929.56" cy="745.5" rx="5.4" ry="6.3" fill="#000"/>
<ellipse cx="953.33" cy="745.5" rx="5.4" ry="6.3" fill="#000"/>
<ellipse cx="715.62" cy="766.1" rx="5.4" ry="6.3" fill="#000"/>
<ellipse cx="1000.87" cy="786.6" rx="5.4" ry="6.3" fill="#000"/>
<ellipse cx="691.86" cy="829.6" rx="5.4" ry="6.3" fill="#000"/>
<ellipse cx="834.48" cy="849.6" rx="5.4" ry="6.3" fill="#000"/>
<ellipse cx="1000.87" cy="849.6" rx="5.4" ry="6.3" fill="#000"/>
<ellipse cx="834.48" cy="871.1" rx="5.4" ry="6.3" fill="#000"/>
<ellipse cx="1000.87" cy="871.1" rx="5.4" ry="6.3" fill="#000"/>
<ellipse cx="691.86" cy="891.1" rx="5.4" ry="6.3" fill="#000"/>
<ellipse cx="739.39" cy="911.1" rx="5.4" ry="6.3" fill="#000"/>
<ellipse cx="929.56" cy="932.1" rx="5.4" ry="6.3" fill="#000"/>
<ellipse cx="739.39" cy="952.1" rx="5.4" ry="6.3" fill="#000"/>
<ellipse cx="882.02" cy="952.1" rx="5.4" ry="6.3" fill="#000"/>
<ellipse cx="739.39" cy="972.1" rx="5.4" ry="6.3" fill="#000"/>
<ellipse cx="858.25" cy="972.1" rx="5.4" ry="6.3" fill="#000"/>
<ellipse cx="739.39" cy="993.6" rx="5.4" ry="6.3" fill="#000"/>
<ellipse cx="858.25" cy="993.6" rx="5.4" ry="6.3" fill="#000"/>
<ellipse cx="715.62" cy="1013.6" rx="5.4" ry="6.3" fill="#000"/>
<ellipse cx="1000.87" cy="1033.1" rx="5.4" ry="6.3" fill="#000"/>
<ellipse cx="691.86" cy="1076.1" rx="5.4" ry="6.3" fill="#000"/>
<ellipse cx="715.62" cy="1137.7" rx="4.6" ry="5.6" fill="#fff" stroke="#000" stroke-width="1.3"/>
<ellipse cx="739.39" cy="1137.7" rx="4.6" ry="5.6" fill="#fff" stroke="#000" stroke-width="1.3"/>
<ellipse cx="763.17" cy="1137.7" rx="4.6" ry="5.6" fill="#fff" stroke="#000" stroke-width="1.3"/>
<ellipse cx="715.62" cy="1158" rx="5.4" ry="6.3" fill="#000"/>
<ellipse cx="739.39" cy="1158" rx="5.4" ry="6.3" fill="#000"/>
<ellipse cx="763.17" cy="1158" rx="5.4" ry="6.3" fill="#000"/>
<ellipse cx="977.1" cy="1178.8" rx="5.4" ry="6.3" fill="#000"/>
<ellipse cx="715.62" cy="1221" rx="5.4" ry="6.3" fill="#000"/>
<ellipse cx="834.48" cy="1241.6" rx="5.4" ry="6.3" fill="#000"/>
<ellipse cx="953.33" cy="1241.6" rx="5.4" ry="6.3" fill="#000"/>
<ellipse cx="834.48" cy="1261.8" rx="5.4" ry="6.3" fill="#000"/>
<ellipse cx="953.33" cy="1261.8" rx="5.4" ry="6.3" fill="#000"/>
<ellipse cx="953.33" cy="1282.3" rx="5.4" ry="6.3" fill="#000"/>
<ellipse cx="739.39" cy="1302.6" rx="5.4" ry="6.3" fill="#000"/>
<ellipse cx="739.39" cy="1323.3" rx="5.4" ry="6.3" fill="#000"/>
<ellipse cx="715.62" cy="1371.1" rx="5.4" ry="6.3" fill="#000"/>
<ellipse cx="739.39" cy="1371.1" rx="5.4" ry="6.3" fill="#000"/>
<ellipse cx="763.17" cy="1371.1" rx="5.4" ry="6.3" fill="#000"/>
<ellipse cx="858.25" cy="1371.1" rx="5.4" ry="6.3" fill="#000"/>
<rect x="85.7" y="295.16" width="3.6" height="55.98" fill="#000"/>
<rect x="85.7" y="368.2" width="3.6" height="37.72" fill="#000"/>
<rect x="85.7" y="422.98" width="3.6" height="37.72" fill="#000"/>
<rect x="85.7" y="477.76" width="3.6" height="19.46" fill="#000"/>
<rect x="85.7" y="550.8" width="3.6" height="37.72" fill="#000"/>
<rect x="85.7" y="605.58" width="3.6" height="19.46" fill="#000"/>
<rect x="85.7" y="660.36" width="3.6" height="37.72" fill="#000"/>
<rect x="85.7" y="715.14" width="3.6" height="55.98" fill="#000"/>
<rect x="85.7" y="806.44" width="3.6" height="55.98" fill="#000"/>
<rect x="85.7" y="879.48" width="3.6" height="55.98" fill="#000"/>
<rect x="85.7" y="952.52" width="3.6" height="55.98" fill="#000"/>
<rect x="85.7" y="1025.56" width="3.6" height="55.98" fill="#000"/>
<rect x="85.7" y="1116.86" width="3.6" height="55.98" fill="#000"/>
<rect x="85.7" y="1244.68" width="3.6" height="55.98" fill="#000"/>
<rect x="85.7" y="1317.72" width="3.6" height="55.98" fill="#000"/>
<rect x="94" y="295.16" width="3.9" height="55.98" fill="#000"/>
<rect x="94" y="368.2" width="3.9" height="19.46" fill="#000"/>
<rect x="94" y="477.76" width="3.9" height="19.46" fill="#000"/>
<rect x="94" y="550.8" width="3.9" height="19.46" fill="#000"/>
<rect x="94" y="715.14" width="3.9" height="55.98" fill="#000"/>
<rect x="94" y="806.44" width="3.9" height="55.98" fill="#000"/>
<rect x="94" y="879.48" width="3.9" height="55.98" fill="#000"/>
<rect x="94" y="952.52" width="3.9" height="55.98" fill="#000"/>
<rect x="94" y="1025.56" width="3.9" height="55.98" fill="#000"/>
<rect x="94" y="1116.86" width="3.9" height="55.98" fill="#000"/>
<rect x="94" y="1244.68" width="3.9" height="55.98" fill="#000"/>
<rect x="94" y="1317.72" width="3.9" height="55.98" fill="#000"/>
<rect x="94" y="422.98" width="3.9" height="6.7" fill="#000"/>
<rect x="94" y="605.58" width="3.9" height="6.7" fill="#000"/>
<rect x="94" y="660.36" width="3.9" height="6.7" fill="#000"/>
<rect x="94" y="447.5" width="3.9" height="13.2" fill="#000"/>
<rect x="94" y="684.88" width="3.9" height="13.2" fill="#000"/>
<path d="M82.7,1190.5 C87.7,1187.5 91.7,1179.5 96.2,1177.7 Q99.7,1176.7 103.2,1179 Q98.7,1178 95.7,1180.5 C92.7,1184.5 89.7,1189.5 86.2,1190.5 Z" fill="#000"/>
<path d="M82.7,1208.76 C87.7,1205.76 91.7,1197.76 96.2,1195.96 Q99.7,1194.96 103.2,1197.26 Q98.7,1196.26 95.7,1198.76 C92.7,1202.76 89.7,1207.76 86.2,1208.76 Z" fill="#000"/>
<path d="M82.7,1227.02 C87.7,1224.02 91.7,1216.02 96.2,1214.22 Q99.7,1213.22 103.2,1215.52 Q98.7,1214.52 95.7,1217.02 C92.7,1221.02 89.7,1226.02 86.2,1227.02 Z" fill="#000"/>
<path d="M72.5,1190.5 L72.5,1208 M72.5,1226.7 L72.5,1239.6 L83.8,1239.6" fill="none" stroke="#000" stroke-width="1.2"/>
<text x="72.8" y="1222.8" class="tn" text-anchor="middle">3</text>
<path d="M261.4,513.8 L263,521.8 M261.4,513.8 L269,515.6 C271,515 272,517.2 274,517.4 C275.5,517.5 277,518.6 278,520" fill="none" stroke="#000" stroke-width="1.3" stroke-linecap="round"/>
<path d="M263,519.8 L265,522.1 L263,524.3 L261,522.1 Z" fill="#000"/>
<path d="M356.4,513.8 L358,521.8 M356.4,513.8 L364,515.6 C366,515 367,517.2 369,517.4 C370.5,517.5 372,518.6 373,520" fill="none" stroke="#000" stroke-width="1.3" stroke-linecap="round"/>
<path d="M358,519.8 L360,522.1 L358,524.3 L356,522.1 Z" fill="#000"/>
<path d="M257.6,642.6 L259,649.8 M257.6,642.6 L267.6,645 M265,645.4 L265.8,650.6 M265,645.4 L270.7,646.3 C273,646.6 275,647.6 277,647.9 C279,648.2 281,649.1 282.6,650.1" fill="none" stroke="#000" stroke-width="1.2" stroke-linecap="round"/>
<circle cx="259" cy="649.9" r="1.9"/>
<circle cx="265.8" cy="650.8" r="1.9"/>
<path d="M351.9,642.6 L353.3,649.8 M351.9,642.6 L361.9,645 M359.3,645.4 L360.1,650.6 M359.3,645.4 L365,646.3 C367.3,646.6 369.3,647.6 371.3,647.9 C373.3,648.2 375.3,649.1 376.9,650.1" fill="none" stroke="#000" stroke-width="1.2" stroke-linecap="round"/>
<circle cx="353.3" cy="649.9" r="1.9"/>
<circle cx="360.1" cy="650.8" r="1.9"/>
<path d="M346.3,271 Q354.3,285.9 346.3,300.8" fill="none" stroke="#000" stroke-width="1.1"/>
<path d="M322.5,1087 Q332.5,1104.5 322.5,1122" fill="none" stroke="#000" stroke-width="1.1"/>
<path d="M392.5,1377 Q401.5,1389.5 392.5,1402" fill="none" stroke="#000" stroke-width="1.1"/>
<path d="M256.5,267 L264.5,267 L260.5,270.5 Z" fill="#222"/>
<circle cx="540.6" cy="1404" r="0.9" fill="#333"/>
<text transform="translate(44.8,1405) scale(0.72,1)" class="tx">T=6</text>
<rect x="69.5" y="1403" width="4" height="1.4" fill="#000"/>
<rect x="613.1" y="297.7" width="3.6" height="26.8" fill="#000"/>
<rect x="621.9" y="297.7" width="3.9" height="30.1" fill="#000"/>
<rect x="630.3" y="297.7" width="3.9" height="13.2" fill="#000"/>
<rect x="613.1" y="326.6" width="3.6" height="22.1" fill="#000"/>
<rect x="613.1" y="368" width="3.6" height="41.4" fill="#000"/>
<rect x="621.9" y="368" width="3.9" height="7.4" fill="#000"/>
<rect x="621.9" y="394.7" width="3.9" height="14.7" fill="#000"/>
<rect x="613.1" y="429.7" width="3.6" height="41.4" fill="#000"/>
<rect x="621.9" y="429.7" width="3.9" height="21.3" fill="#000"/>
<rect x="613.1" y="491.4" width="3.6" height="41.4" fill="#000"/>
<rect x="621.9" y="491.4" width="3.9" height="7.4" fill="#000"/>
<rect x="621.9" y="518.1" width="3.9" height="14.7" fill="#000"/>
<rect x="613.1" y="574.1" width="3.6" height="21.8" fill="#000"/>
<rect x="613.1" y="615.2" width="3.6" height="42" fill="#000"/>
<rect x="621.9" y="615.2" width="3.9" height="7.4" fill="#000"/>
<rect x="621.9" y="642.5" width="3.9" height="14.7" fill="#000"/>
<rect x="613.1" y="676.9" width="3.6" height="42.4" fill="#000"/>
<rect x="621.9" y="676.9" width="3.9" height="21.8" fill="#000"/>
<rect x="613.1" y="737.8" width="3.6" height="42.3" fill="#000"/>
<rect x="621.9" y="737.8" width="3.9" height="7.4" fill="#000"/>
<rect x="621.9" y="765.4" width="3.9" height="14.7" fill="#000"/>
<rect x="613.1" y="821.9" width="3.6" height="21.2" fill="#000"/>
<rect x="613.1" y="863.4" width="3.6" height="41.2" fill="#000"/>
<rect x="621.9" y="863.4" width="3.9" height="7.4" fill="#000"/>
<rect x="621.9" y="889.9" width="3.9" height="14.7" fill="#000"/>
<rect x="613.1" y="924.4" width="3.6" height="41.2" fill="#000"/>
<rect x="621.9" y="924.4" width="3.9" height="21.2" fill="#000"/>
<rect x="613.1" y="985.9" width="3.6" height="40.7" fill="#000"/>
<rect x="621.9" y="985.9" width="3.9" height="7.4" fill="#000"/>
<rect x="621.9" y="1011.9" width="3.9" height="14.7" fill="#000"/>
<rect x="613.1" y="1150.3" width="3.6" height="22" fill="#000"/>
<rect x="613.1" y="1213.3" width="3.6" height="21.8" fill="#000"/>
<rect x="613.1" y="1254.1" width="3.6" height="42" fill="#000"/>
<rect x="621.9" y="1254.1" width="3.9" height="21.6" fill="#000"/>
<path d="M610.4,1069 C615.4,1066 619.4,1058 623.9,1056.2 Q627.4,1055.2 630.9,1057.5 Q626.4,1056.5 623.4,1059 C620.4,1063 617.4,1068 613.9,1069 Z" fill="#000"/>
<path d="M610.4,1316.2 C615.4,1313.2 619.4,1305.2 623.9,1303.4 Q627.4,1302.4 630.9,1304.7 Q626.4,1303.7 623.4,1306.2 C620.4,1310.2 617.4,1315.2 613.9,1316.2 Z" fill="#000"/>
<circle cx="692.6" cy="321.8" r="1.8"/>
<path d="M790.7,1089.6 L792.3,1097.6 M790.7,1089.6 L798.3,1091.4 C800.3,1090.8 801.3,1093 803.3,1093.2 C804.8,1093.3 806.3,1094.4 807.3,1095.8" fill="none" stroke="#000" stroke-width="1.3" stroke-linecap="round"/>
<path d="M792.3,1095.6 L794.3,1097.9 L792.3,1100.1 L790.3,1097.9 Z" fill="#000"/>
<path d="M885.4,1089.6 L887,1097.6 M885.4,1089.6 L893,1091.4 C895,1090.8 896,1093 898,1093.2 C899.5,1093.3 901,1094.4 902,1095.8" fill="none" stroke="#000" stroke-width="1.3" stroke-linecap="round"/>
<path d="M887,1095.6 L889,1097.9 L887,1100.1 L885,1097.9 Z" fill="#000"/>
<path d="M790.7,1336.8 L792.3,1344.8 M790.7,1336.8 L798.3,1338.6 C800.3,1338 801.3,1340.2 803.3,1340.4 C804.8,1340.5 806.3,1341.6 807.3,1343" fill="none" stroke="#000" stroke-width="1.3" stroke-linecap="round"/>
<path d="M792.3,1342.8 L794.3,1345.1 L792.3,1347.3 L790.3,1345.1 Z" fill="#000"/>
<path d="M885.4,1336.8 L887,1344.8 M885.4,1336.8 L893,1338.6 C895,1338 896,1340.2 898,1340.4 C899.5,1340.5 901,1341.6 902,1343" fill="none" stroke="#000" stroke-width="1.3" stroke-linecap="round"/>
<path d="M887,1342.8 L889,1345.1 L887,1347.3 L885,1345.1 Z" fill="#000"/>
<path d="M1019,354 Q1027,364.25 1019,374.5" fill="none" stroke="#000" stroke-width="1.1"/>
<path d="M875.5,477 Q883.5,487.25 875.5,497.5" fill="none" stroke="#000" stroke-width="1.1"/>
<path d="M970.5,725 Q978.5,735.25 970.5,745.5" fill="none" stroke="#000" stroke-width="1.1"/>
<path d="M1018.5,849 Q1026.5,859.5 1018.5,870" fill="none" stroke="#000" stroke-width="1.1"/>
<path d="M875.5,972 Q883.5,982.25 875.5,992.5" fill="none" stroke="#000" stroke-width="1.1"/>
<path d="M779,1137 Q788,1147.25 779,1157.5" fill="none" stroke="#000" stroke-width="1.1"/>
<path d="M971,1240 Q979,1250.25 971,1260.5" fill="none" stroke="#000" stroke-width="1.1"/>
<path d="M875.5,1370 Q883.5,1383.5 875.5,1397" fill="none" stroke="#000" stroke-width="1.1"/>
<path d="M997,267 L1006,267 L1001.5,271 Z" fill="#222"/>
<text x="448.5" y="1498" class="ft" style="font-size:26.6px">想要了解更多曲谱请关注</text>
<text x="447.5" y="1543" class="ft" style="font-size:26.5px;letter-spacing:0.6px">微信公众号【众乐音圈】</text>
<text x="333.2" y="1538.8" class="ft" style="font-size:34px" text-anchor="middle">3</text>
<text x="865" y="1537.7" class="ft" style="font-size:34px" text-anchor="middle">4</text>
<rect x="0" y="1528" width="1152" height="37" fill="#fff"/>
</svg>
</body></html>
